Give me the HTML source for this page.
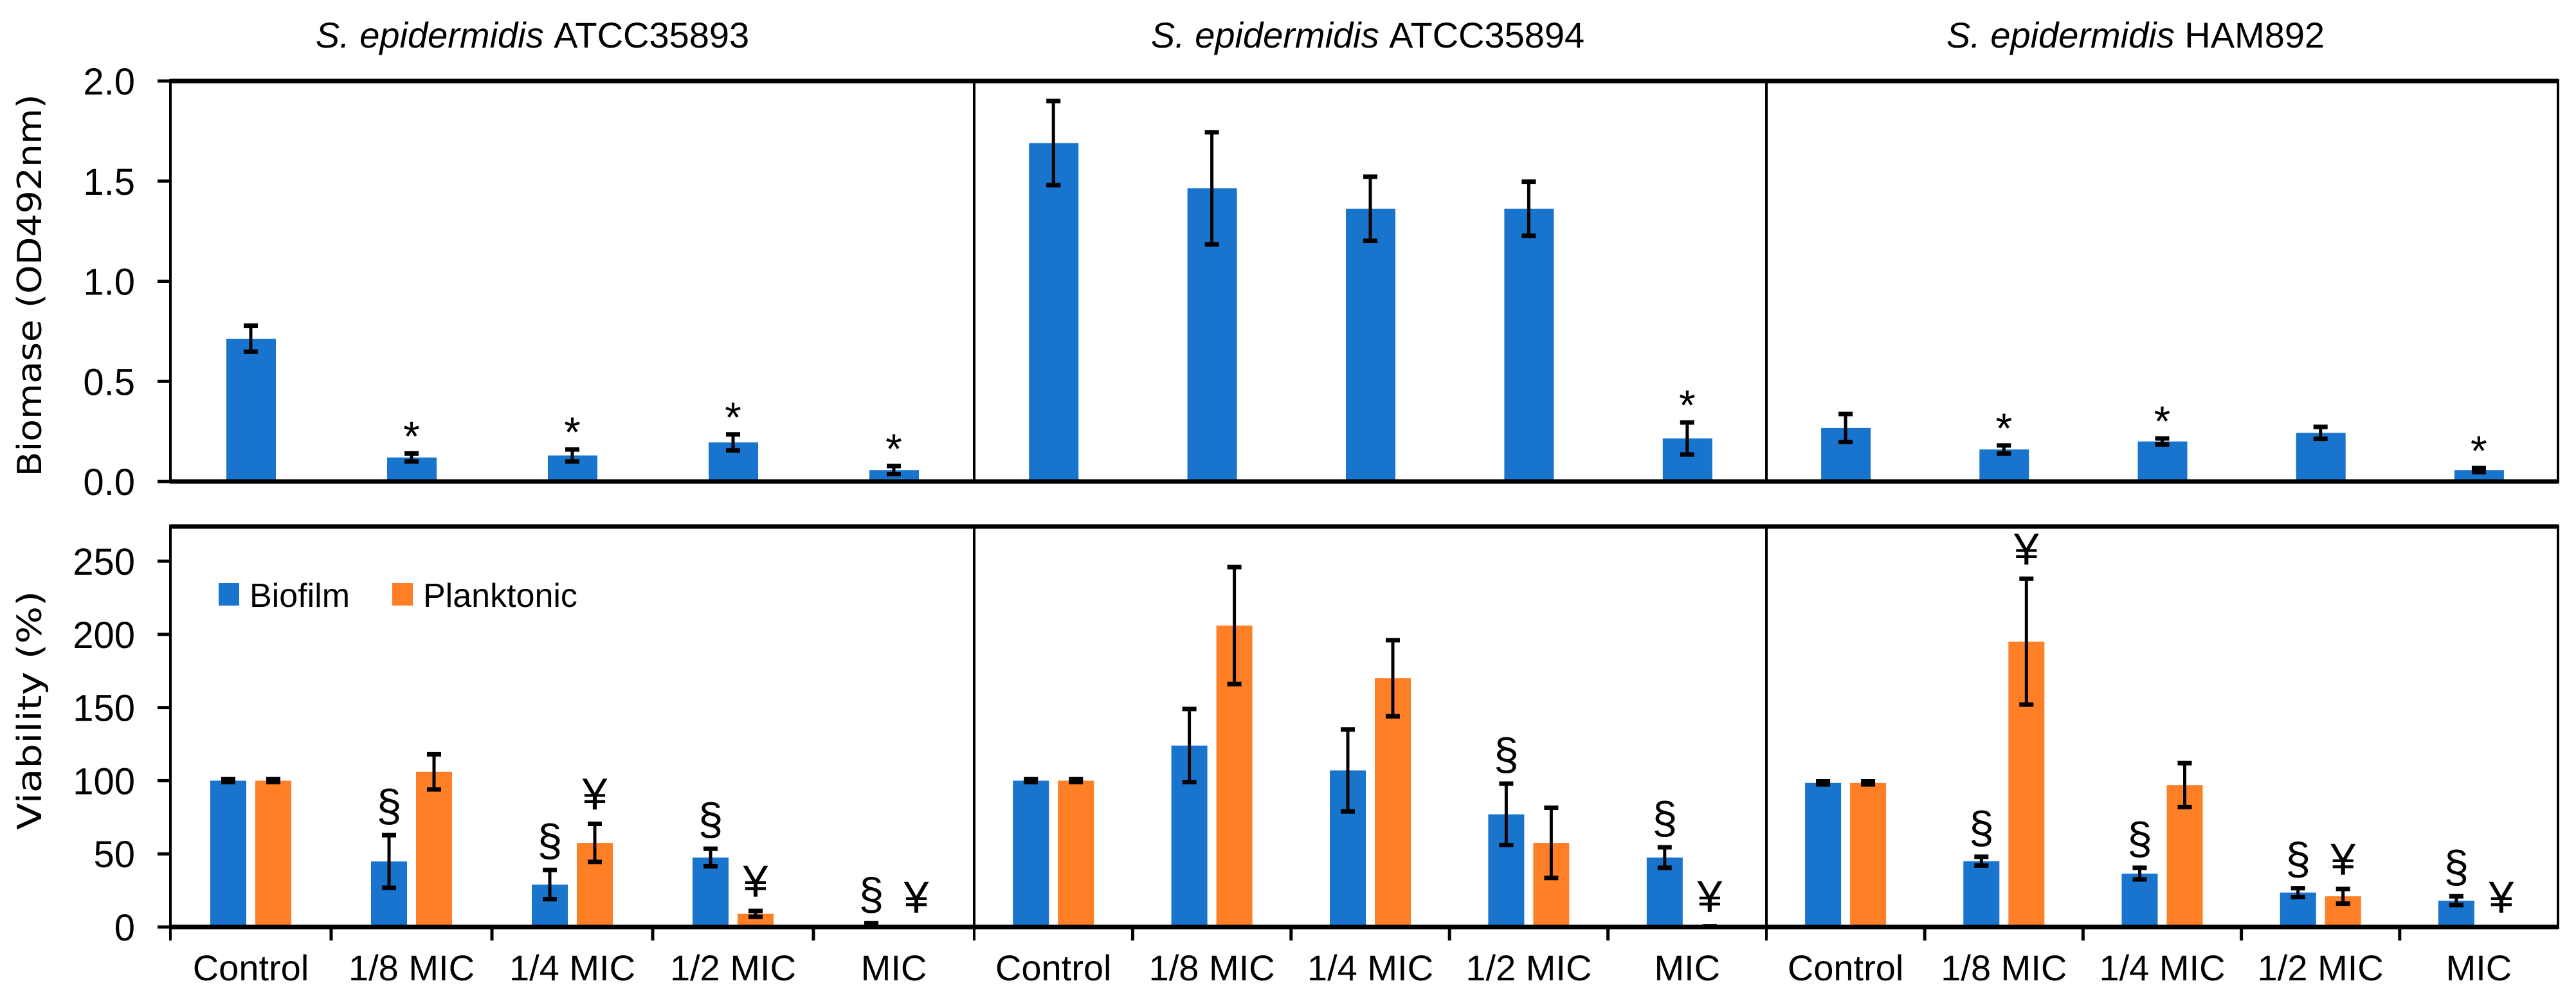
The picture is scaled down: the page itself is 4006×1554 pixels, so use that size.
<!DOCTYPE html>
<html><head><meta charset="utf-8"><style>
html,body{margin:0;padding:0;background:#fff;}
svg{display:block;}
text{font-family:"Liberation Sans",sans-serif;fill:#000;}
</style></head><body>
<svg id="chart" width="4006" height="1554" viewBox="0 0 4006 1554" xmlns="http://www.w3.org/2000/svg"></svg>
<script>
const strains = ["ATCC35893", "ATCC35894", "HAM892"];
const categories = ["Control", "1/8 MIC", "1/4 MIC", "1/2 MIC", "MIC"];
const biomass = [[0.713,0.12,0.13,0.195,0.057],[1.69,1.464,1.362,1.362,0.215],[0.267,0.16,0.2,0.243,0.057]];
const biomassErr = [[0.065,0.02,0.03,0.04,0.02],[0.21,0.28,0.16,0.135,0.08],[0.07,0.02,0.015,0.03,0.01]];
const biomassStar = [[0,1,1,1,1],[0,0,0,0,1],[0,1,1,0,1]];
const biofilm = [[100,44.8,29,47.5,1.5],[100,124,107,77,47.5],[98.5,45,36.5,23.5,18]];
const biofilmErr = [[1,18,10,6,1],[1,25,28,21,7],[1,3,4,3,3]];
const plank = [[100,106,57.5,9,0],[100,206,170,57.5,0.5],[98.5,195,97,21,0]];
const plankErr = [[1,12,13,2,0],[1,40,26,24,0],[1,43,15,5,0]];
const biofilmSig = [[0,1,1,1,1],[0,0,0,1,1],[0,1,1,1,1]];
const plankSig = [[0,0,1,1,1],[0,0,0,0,1],[0,1,0,1,1]];
const biomassTicks = ["0.0","0.5","1.0","1.5","2.0"];
const viabTicks = ["0","50","100","150","200","250"];

const NS="http://www.w3.org/2000/svg";
const svg=document.getElementById('chart');
function mk(tag,attrs,parent){const e=document.createElementNS(NS,tag);for(const k in attrs)e.setAttribute(k,attrs[k]);(parent||svg).appendChild(e);return e;}
const panelX=[265,1515,2747,3978];
const titleCX=[828,2127,3321];
const yTop=v=>749-v*311.5;
const yBot=v=>1442-v*2.276;
const BLUE="#1874CD", ORANGE="#FF7F27";
function catX(p,i){const w=(panelX[p+1]-panelX[p])/5;return panelX[p]+w*(i+0.5);}
function errBar(x,y1,y2,name){
  const g=mk('g',{});
  
  
  mk('line',{x1:x,x2:x,y1:y1,y2:y2,stroke:'#000','stroke-width':5},g);
  mk('line',{x1:x-11,x2:x+11,y1:y1,y2:y1,stroke:'#000','stroke-width':7},g);
  mk('line',{x1:x-11,x2:x+11,y1:y2,y2:y2,stroke:'#000','stroke-width':7},g);
}
for(let p=0;p<3;p++){
  const t=mk('text',{x:titleCX[p],y:74,'font-size':56,'text-anchor':'middle'});
  
  
  const s=mk('tspan',{'font-style':'italic'},t);s.textContent='S. epidermidis ';
  const s2=mk('tspan',{},t);s2.textContent=strains[p];
}
let yt=mk('text',{x:0,y:0,'font-size':52,'text-anchor':'middle',transform:'translate(64,444) rotate(-90)',textLength:595,lengthAdjust:'spacingAndGlyphs',style:'font-family:"DejaVu Sans",sans-serif'});
yt.textContent='Biomase (OD492nm)';
yt=mk('text',{x:0,y:0,'font-size':52,'text-anchor':'middle',transform:'translate(64,1105) rotate(-90)',textLength:372,lengthAdjust:'spacingAndGlyphs',style:'font-family:"DejaVu Sans",sans-serif'});
yt.textContent='Viability (%)';
biomassTicks.forEach(t=>{const y=yTop(parseFloat(t));
  mk('line',{x1:245,x2:265,y1:y,y2:y,stroke:'#000','stroke-width':5});
  const e=mk('text',{x:210,y:y+21,'font-size':58,'text-anchor':'end'});
  e.textContent=t;});
viabTicks.forEach(t=>{const y=yBot(parseFloat(t));
  mk('line',{x1:245,x2:265,y1:y,y2:y,stroke:'#000','stroke-width':5});
  const e=mk('text',{x:210,y:y+21,'font-size':58,'text-anchor':'end'});
  e.textContent=t;});
for(let p=0;p<3;p++){for(let i=0;i<5;i++){
  const cx=catX(p,i),v=biomass[p][i],e=biomassErr[p][i];
  const r=mk('rect',{x:cx-38,y:yTop(v),width:77,height:749-yTop(v),fill:BLUE});
  
  errBar(cx,yTop(v+e),yTop(Math.max(0,v-e)),'biomass-error-bar');
  if(biomassStar[p][i]){const s=mk('text',{x:cx,y:yTop(v+e)-4,'font-size':66,'text-anchor':'middle'});
    s.textContent='*';}
}}
for(let p=0;p<3;p++){for(let i=0;i<5;i++){
  const cx=catX(p,i);
  [[biofilm,biofilmErr,biofilmSig,BLUE,-35,'biofilm','§'],[plank,plankErr,plankSig,ORANGE,35,'planktonic','¥']].forEach(([d,de,sg,col,off,nm,sym])=>{
    const v=d[p][i],e=de[p][i],x=cx+off;
    const r=mk('rect',{x:x-28,y:yBot(v),width:56,height:1442-yBot(v),fill:col});
    
    if(e>0||v>0)errBar(x,yBot(v+e),yBot(Math.max(0,v-e)),nm+'-error-bar');
    if(sg[p][i]){const s=mk('text',{x:x,y:yBot(v+e)-22,'font-size':70,'text-anchor':'middle'});
      s.textContent=sym;}
  });
  const l=mk('text',{x:cx,y:1525,'font-size':56,'text-anchor':'middle'});
  l.textContent=categories[i];
  if(i>0){const bx=panelX[p]+(panelX[p+1]-panelX[p])/5*i;mk('line',{x1:bx,x2:bx,y1:1442,y2:1463,stroke:'#000','stroke-width':5});}
}}
mk('line',{x1:265,x2:3978,y1:126,y2:126,stroke:'#000','stroke-width':7});
mk('line',{x1:265,x2:3978,y1:749,y2:749,stroke:'#000','stroke-width':7});
mk('line',{x1:265,x2:3978,y1:819,y2:819,stroke:'#000','stroke-width':7});
mk('line',{x1:265,x2:3978,y1:1442,y2:1442,stroke:'#000','stroke-width':7});
panelX.forEach((x,k)=>{
  mk('line',{x1:x,x2:x,y1:123,y2:752,stroke:'#000','stroke-width':4});
  mk('line',{x1:x,x2:x,y1:816,y2:k==3?1445:1463,stroke:'#000','stroke-width':4});
});
const lg=mk('g',{});
mk('rect',{x:340,y:907,width:32,height:35,fill:BLUE},lg);
let lt=mk('text',{x:388,y:944,'font-size':52},lg);lt.textContent='Biofilm';
mk('rect',{x:610,y:907,width:32,height:35,fill:ORANGE},lg);
lt=mk('text',{x:658,y:944,'font-size':52},lg);lt.textContent='Planktonic';
</script>
</body></html>
